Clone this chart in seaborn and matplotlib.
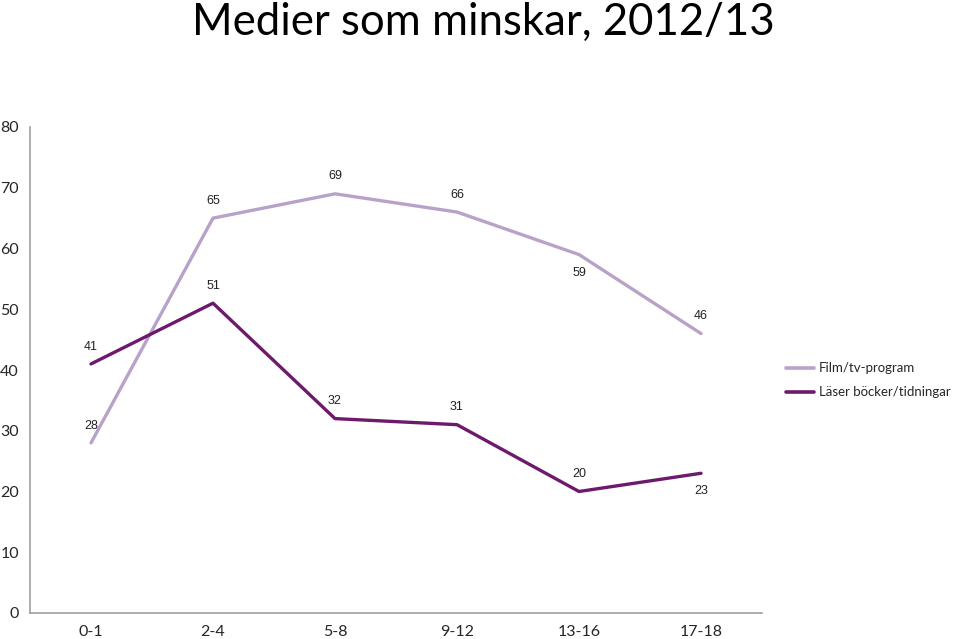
import matplotlib
matplotlib.use("Agg")
import matplotlib.pyplot as plt
import seaborn as sns
import pandas as pd

categories = ["0-1", "2-4", "5-8", "9-12", "13-16", "17-18"]
film = [28, 65, 69, 66, 59, 46]
books = [41, 51, 32, 31, 20, 23]
series_names = ["Film/tv-program", "Läser böcker/tidningar"]
colors = ["#B9A2C9", "#6E1A6C"]
# label position: +1 above, -1 below
film_pos = [1, 1, 1, 1, -1, 1]
books_pos = [1, 1, 1, 1, 1, -1]

sns.set_style("white")
plt.rcParams['font.family'] = ['Lato', 'DejaVu Sans']

df = pd.DataFrame({
    "x": list(range(len(categories))) * 2,
    "value": film + books,
    "series": [series_names[0]] * len(film) + [series_names[1]] * len(books),
})

fig = plt.figure(figsize=(9.6, 6.39), dpi=100)
ax = fig.add_axes([30 / 960, 1 - 613 / 639, (762 - 30) / 960, (613 - 127) / 639])

sns.lineplot(data=df, x="x", y="value", hue="series", palette=colors,
             linewidth=2.4, ax=ax, legend=True)

for vals, pos in ((film, film_pos), (books, books_pos)):
    for i, (v, p) in enumerate(zip(vals, pos)):
        ax.annotate(str(v), (i, v), xytext=(0, 12.5 if p > 0 else -13),
                    textcoords="offset points", ha="center", va="center",
                    fontsize=9, family="Liberation Sans", color="#222222")

ax.set_xlim(-0.5, len(categories) - 0.5)
ax.set_ylim(0, 80)
ax.set_yticks(range(0, 81, 10))
ax.set_yticklabels([str(v) for v in range(0, 81, 10)], fontsize=11.5)
ax.set_xticks([i + 0.5 for i in range(-1, len(categories))], minor=False)
ax.set_xticklabels([""] * (len(categories) + 1))
ax.set_xticks(range(len(categories)), minor=True)
ax.set_xticklabels(categories, minor=True, fontsize=11.5)
ax.tick_params(axis="x", which="minor", length=0, pad=9)
ax.tick_params(axis="x", which="major", length=4, color="#A0A0A0", direction="out")
ax.tick_params(axis="y", length=4, color="#A0A0A0", direction="out", pad=4)
ax.set_xlabel("")
ax.set_ylabel("")
for s in ("top", "right"):
    ax.spines[s].set_visible(False)
for s in ("left", "bottom"):
    ax.spines[s].set_color("#A0A0A0")
    ax.spines[s].set_linewidth(1.2)
ax.grid(False)

leg = ax.legend(loc="center left", bbox_to_anchor=(1.0, 0.479), frameon=False,
                fontsize=9.5, handlelength=2.1, handletextpad=0.35,
                borderaxespad=1.45, labelspacing=0.9)
for line in leg.get_lines():
    line.set_linewidth(2.6)

fig.text(0.503, 0.965, "Medier som minskar, 2012/13", ha="center", va="center",
         fontsize=31.5, color="#000000")

fig.savefig("out.png", dpi=100)
